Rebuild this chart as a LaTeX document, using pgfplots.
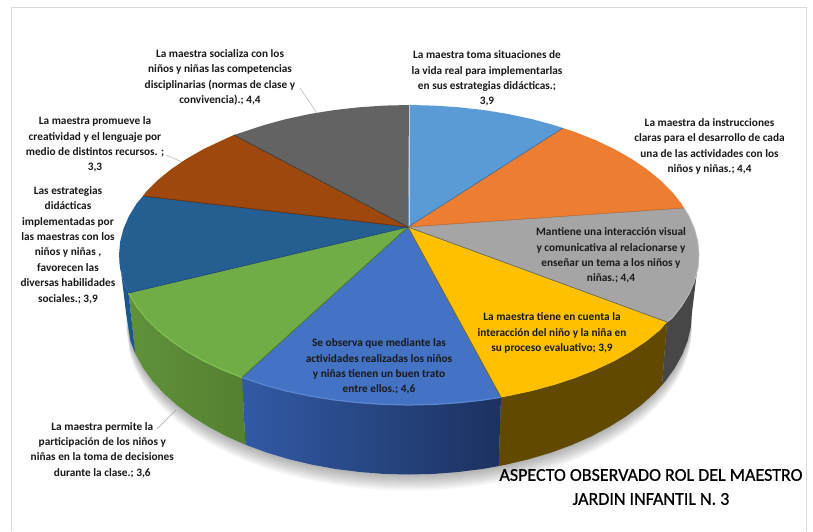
\documentclass[border=0pt]{standalone}
\usepackage{pgfplots}
\pgfplotsset{compat=1.18}
\usepackage{fontspec}
\setmainfont{Carlito}
\newfontfamily\ftitle[FakeBold=0.7]{Carlito}
\definecolor{c1}{HTML}{5B9BD5}
\definecolor{c2}{HTML}{ED7D31}
\definecolor{c3}{HTML}{A5A5A5}
\definecolor{c4}{HTML}{FFC000}
\definecolor{c5}{HTML}{4472C4}
\definecolor{c6}{HTML}{70AD47}
\definecolor{c7}{HTML}{255E91}
\definecolor{c8}{HTML}{9E480E}
\definecolor{c9}{HTML}{636363}
\begin{document}
\begin{tikzpicture}
\begin{axis}[
  width=813pt,height=531pt,scale only axis,
  xmin=0,xmax=813,ymin=0,ymax=531,y dir=reverse,
  axis lines=none,enlargelimits=false,clip=true,
]
% background and frame
\addplot[fill=white,draw=none] coordinates {(0,0)(813,0)(813,531)(0,531)} -- cycle;
\addplot[draw=black!15,line width=1pt] coordinates {(11,531)(11,7.5)(806.5,7.5)(806.5,531)};
% soft shadow
\pgfplotsinvokeforeach{2,4,6,8,10,12,14,16}{
\addplot[fill=black,draw=none,opacity=0.04,yshift=-#1 pt] coordinates {(692,312.5)(690.9,326.6)(687.7,340.6)(682.3,354.4)(674.9,367.9)(665.5,381)(654.1,393.5)(640.8,405.4)(625.8,416.6)(609.1,427)(590.9,436.6)(571.3,445.2)(550.5,452.8)(528.6,459.3)(505.8,464.7)(482.2,469)(458.1,472)(433.7,473.9)(409,474.5)(384.3,473.9)(359.9,472)(335.8,469)(312.2,464.7)(289.4,459.3)(267.5,452.8)(246.7,445.2)(227.1,436.6)(208.9,427)(192.2,416.6)(177.2,405.4)(163.9,393.5)(152.5,381)(143.1,367.9)(135.7,354.4)(130.3,340.6)(126,312.5)} -- cycle;
}
% side walls
\addplot[fill=black!72,draw=none] coordinates {(699,255)(697.9,268.1)(694.6,281)(689.1,293.8)(681.5,306.3)(671.8,318.4)(667,322)(662,385)(665.5,381)(674.9,367.9)(682.3,354.4)(687.7,340.6)(690.9,326.6)(692,312.5)} -- cycle;
\addplot[fill={rgb,255:red,97;green,74;blue,0},draw=none] coordinates {(667,322)(660.1,330)(646.6,341)(631.1,351.4)(614.1,361.1)(595.4,369.9)(575.3,377.9)(554,384.9)(531.6,391)(508.2,396)(501,397.3)(498.7,466.1)(505.8,464.7)(528.6,459.3)(550.5,452.8)(571.3,445.2)(590.9,436.6)(609.1,427)(625.8,416.6)(640.8,405.4)(654.1,393.5)(662,385)} -- cycle;
\addplot[draw=none,left color={rgb,255:red,50;green,90;blue,165},right color={rgb,255:red,28;green,50;blue,95}] coordinates {(501,397.3)(484.1,399.9)(459.3,402.7)(434.3,404.4)(409,405)(383.7,404.4)(358.7,402.7)(333.9,399.9)(309.8,396)(286.4,391)(264,384.9)(242,377.4)(245.4,444.7)(267.5,452.8)(289.4,459.3)(312.2,464.7)(335.8,469)(359.9,472)(384.3,473.9)(409,474.5)(433.7,473.9)(458.1,472)(482.2,469)(498.7,466.1)} -- cycle;
\addplot[draw=none,left color={rgb,255:red,96;green,146;blue,58},right color={rgb,255:red,84;green,128;blue,48}] coordinates {(242,377.4)(222.6,369.9)(203.9,361.1)(186.9,351.4)(171.4,341)(157.9,330)(146.2,318.4)(136.5,306.3)(128.5,293)(135.3,353.6)(143.1,367.9)(152.5,381)(163.9,393.5)(177.2,405.4)(192.2,416.6)(208.9,427)(227.1,436.6)(245.4,444.7)} -- cycle;
\addplot[fill={rgb,255:red,28;green,86;blue,142},draw=none] coordinates {(128.5,293)(123.4,281)(120.1,268.1)(119,255)(126,312.5)(130.3,340.6)(135.3,353.6)} -- cycle;
% top sectors
\addplot[fill=c1,draw=none] coordinates {(408,227)(409,105)(434.3,105.6)(459.3,107.3)(484.1,110.1)(508.2,114)(531.6,119)(554,125.1)(563,128)} -- cycle;
\addplot[fill=c2,draw=none] coordinates {(408,227)(563,128)(575.3,132.1)(595.4,140.1)(614.1,148.9)(631.1,158.6)(646.6,169)(660.1,180)(671.8,191.6)(681.5,203.7)(684,208)} -- cycle;
\addplot[fill=c3,draw=none] coordinates {(408,227)(684,208)(689.1,216.2)(694.6,229)(697.9,241.9)(699,255)(697.9,268.1)(694.6,281)(689.1,293.8)(681.5,306.3)(671.8,318.4)(667,322)} -- cycle;
\addplot[fill=c4,draw=none] coordinates {(408,227)(667,322)(660.1,330)(646.6,341)(631.1,351.4)(614.1,361.1)(595.4,369.9)(575.3,377.9)(554,384.9)(531.6,391)(508.2,396)(501,397.3)} -- cycle;
\addplot[fill=c5,draw=none] coordinates {(408,227)(501,397.3)(484.1,399.9)(459.3,402.7)(434.3,404.4)(409,405)(383.7,404.4)(358.7,402.7)(333.9,399.9)(309.8,396)(286.4,391)(264,384.9)(242,377.4)} -- cycle;
\addplot[fill=c6,draw=none] coordinates {(408,227)(242,377.4)(222.6,369.9)(203.9,361.1)(186.9,351.4)(171.4,341)(157.9,330)(146.2,318.4)(136.5,306.3)(128.5,293)} -- cycle;
\addplot[fill=c7,draw=none] coordinates {(408,227)(128.5,293)(123.4,281)(120.1,268.1)(119,255)(120.1,241.9)(123.4,229)(128.9,216.2)(136.5,203.7)(143,196)} -- cycle;
\addplot[fill=c8,draw=none] coordinates {(408,227)(143,196)(146.2,191.6)(157.9,180)(171.4,169)(186.9,158.6)(203.9,148.9)(222.6,140.1)(234,135)} -- cycle;
\addplot[fill=c9,draw=none] coordinates {(408,227)(234,135)(242.7,132.1)(264,125.1)(286.4,119)(309.8,114)(333.9,110.1)(358.7,107.3)(383.7,105.6)(409,105)} -- cycle;
% rim highlights
\addplot[draw={rgb,255:red,92;green,134;blue,208},line width=1.2pt] coordinates {(501,397.3)(484.1,399.9)(459.3,402.7)(434.3,404.4)(409,405)(383.7,404.4)(358.7,402.7)(333.9,399.9)(309.8,396)(286.4,391)(264,384.9)(242,377.4)};
\addplot[draw={rgb,255:red,130;green,190;blue,85},line width=1.2pt] coordinates {(242,377.4)(222.6,369.9)(203.9,361.1)(186.9,351.4)(171.4,341)(157.9,330)(146.2,318.4)(136.5,306.3)(128.5,293)};
\addplot[draw={rgb,255:red,190;green,190;blue,190},line width=0.8pt] coordinates {(684,208)(689.1,216.2)(694.6,229)(697.9,241.9)(699,255)(697.9,268.1)(694.6,281)(689.1,293.8)(681.5,306.3)(671.8,318.4)(667,322)};
% radial dividers
\addplot[draw={rgb,255:red,184;green,212;blue,238},line width=1pt] coordinates {(409,227)(409,105)};
\addplot[draw={rgb,255:red,59;green,111;blue,158},line width=0.7pt] coordinates {(408,227)(563,128)};
\addplot[draw={rgb,255:red,176;green,90;blue,32},line width=0.5pt] coordinates {(408,227)(684,208)};
\addplot[draw={rgb,255:red,100;green,100;blue,100},line width=0.7pt] coordinates {(408,227)(667,322)};
\addplot[draw={rgb,255:red,130;green,100;blue,0},line width=0.7pt] coordinates {(408,227)(501,397.3)};
\addplot[draw={rgb,255:red,70;green,111;blue,42},line width=0.7pt] coordinates {(408,227)(242,377.4)};
\addplot[draw={rgb,255:red,29;green,74;blue,117},line width=0.7pt] coordinates {(408,227)(128.5,293)};
\addplot[draw={rgb,255:red,90;green,45;blue,15},line width=0.7pt] coordinates {(408,227)(143,196)};
\addplot[draw={rgb,255:red,58;green,58;blue,58},line width=0.7pt] coordinates {(408,227)(234,135)};
% leaders
\addplot[draw=black!35,line width=0.4pt] coordinates {(300,88)(317,113)};
\addplot[draw=black!35,line width=0.4pt] coordinates {(166,155)(182,162)};
\addplot[draw=black!35,line width=0.4pt] coordinates {(157,429)(176,410)};
% labels
\tikzset{lb/.style={align=center,inner sep=0pt,font=\fontsize{11.3}{15.4}\selectfont\bfseries,text=black!90}}
\node[lb] at (axis cs:220,77.5) {La maestra socializa con los\\niños y niñas las competencias\\disciplinarias (normas de clase y\\convivencia).; 4,4};
\node[lb] at (axis cs:95,144.5) {La maestra promueve la\\creatividad y el lenguaje por\\medio de distintos recursos. ;\\3,3};
\node[lb] at (axis cs:487,78.5) {La maestra toma situaciones de\\la vida real para implementarlas\\en sus estrategias didácticas.;\\3,9};
\node[lb] at (axis cs:709.5,146.5) {La maestra da instrucciones\\claras para el desarrollo de cada\\una de las actividades con los\\niños y niñas.; 4,4};
\node[lb] at (axis cs:68,245) {Las estrategias\\didácticas\\implementadas por\\las maestras con los\\niños y niñas ,\\favorecen las\\diversas habilidades\\sociales.; 3,9};
\node[lb] at (axis cs:102.3,450) {La maestra permite la\\participación de los niños y\\niñas en la toma de decisiones\\durante la clase.; 3,6};
\node[lb] at (axis cs:611,255.5) {Mantiene una interacción visual\\y comunicativa al relacionarse y\\enseñar un tema a los niños y\\niñas.; 4,4};
\node[lb] at (axis cs:552,333) {La maestra tiene en cuenta la\\interacción del niño y la niña en\\su proceso evaluativo; 3,9};
\node[lb] at (axis cs:379,366.5) {Se observa que mediante las\\actividades realizadas los niños\\y niñas tienen un buen trato\\entre ellos.; 4,6};
\node[align=center,inner sep=0pt,font=\ftitle\fontsize{18}{24}\selectfont,text=black] at (axis cs:651,487) {ASPECTO OBSERVADO ROL DEL MAESTRO\\JARDIN INFANTIL N. 3};
\end{axis}
\end{tikzpicture}
\end{document}
